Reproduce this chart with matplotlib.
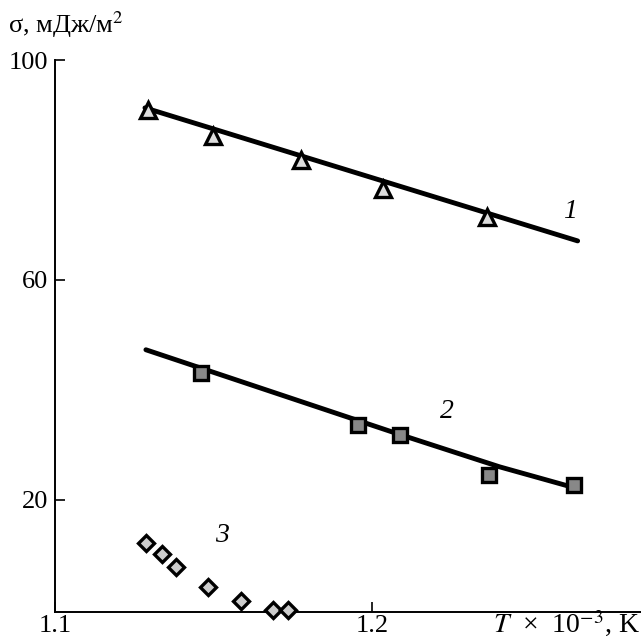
import matplotlib.pyplot as plt

plt.rcParams['font.family'] = ['Liberation Serif', 'DejaVu Serif']
plt.rcParams['mathtext.fontset'] = 'stix'

# curve 1 (triangles)
t1 = [1.1293, 1.1498, 1.1776, 1.2035, 1.2363]
s1 = [90.9, 86.2, 81.8, 76.5, 71.5]
fit1_t = [1.1284, 1.2650]
fit1_s = [91.3, 67.1]

# curve 2 (squares)
t2 = [1.1461, 1.1956, 1.2088, 1.2369, 1.2640]
s2 = [43.1, 33.6, 31.8, 24.5, 22.7]
fit2_t = [1.1287, 1.2088, 1.2404, 1.2640]
fit2_s = [47.3, 31.9, 26.0, 22.2]

# curve 3 (diamonds)
t3 = [1.1287, 1.1338, 1.1382, 1.1483, 1.1587, 1.1688, 1.1735]
s3 = [12.2, 10.2, 7.8, 4.2, 1.6, 0.0, 0.0]

fig = plt.figure(figsize=(6.41, 6.42), dpi=100)
ax = fig.add_axes([0.0858, 0.0467, 0.9142, 0.8598])

# fitted lines
ax.plot(fit1_t, fit1_s, color='black', lw=3.5, solid_capstyle='round', zorder=2)
ax.plot(fit2_t, fit2_s, color='black', lw=3.5, solid_capstyle='round',
        solid_joinstyle='round', zorder=2)

# experimental points
ax.plot(t1, s1, linestyle='none', marker='^', markersize=12, markerfacecolor='#dddddd',
        markeredgecolor='black', markeredgewidth=2.4, zorder=3)
ax.plot(t2, s2, linestyle='none', marker='s', markersize=10, markerfacecolor='#888888',
        markeredgecolor='black', markeredgewidth=2.4, zorder=3)
ax.plot(t3, s3, linestyle='none', marker='D', markersize=8.5, markerfacecolor='#cccccc',
        markeredgecolor='black', markeredgewidth=2.4, zorder=3, clip_on=False)

# curve numbers
ax.text(1.2625, 72.4, '1', fontsize=20, style='italic', ha='center', va='center')
ax.text(1.2237, 36.0, '2', fontsize=20, style='italic', ha='center', va='center')
ax.text(1.1527, 13.6, '3', fontsize=20, style='italic', ha='center', va='center')

ax.set_xlim(1.1, 1.285)
ax.set_ylim(-0.4, 100)
ax.set_xticks([1.1, 1.2])
ax.set_xticklabels(['1.1', '1.2'])
ax.set_yticks([20, 60, 100])
ax.set_yticklabels(['20', '60', '100'])
ax.tick_params(direction='in', length=7, width=1.2, labelsize=19, pad=5, colors='black')
ax.tick_params(axis='x', pad=2)

for side in ['top', 'right']:
    ax.spines[side].set_visible(False)
for side in ['left', 'bottom']:
    ax.spines[side].set_linewidth(1.4)

fig.text(0.012, 0.962, 'σ, мДж/м$^2$', fontsize=19, ha='left', va='center')
fig.text(0.998, 0.004, r'$T$  ×  10$^{-3}$, K', fontsize=20, ha='right', va='bottom')

fig.savefig('out.png', dpi=100)
